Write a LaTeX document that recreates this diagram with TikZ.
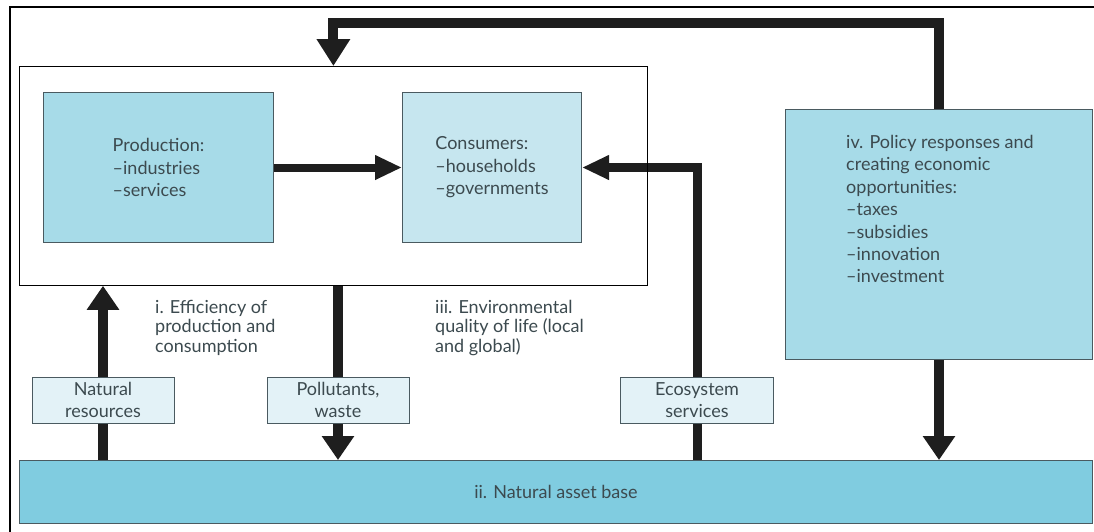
\documentclass[tikz,border=0pt]{standalone}
\usepackage{fontspec}
\setmainfont{Lato}
\usetikzlibrary{
  arrows.meta,
  backgrounds,
}
\definecolor{prodblue}{HTML}{A7DBE8}
\definecolor{consblue}{HTML}{C6E6EF}
\definecolor{baseblue}{HTML}{80CCE0}
\definecolor{tagblue}{HTML}{E3F2F7}
\definecolor{edgegray}{HTML}{4A5A60}
\definecolor{inkgray}{HTML}{3C4A4F}
\definecolor{flowblack}{HTML}{1E1E1E}
\tikzset{
  sysbox/.style={
    rectangle,
    draw=black,
    line width=0.8pt,
  },
  sector/.style={
    rectangle,
    draw=edgegray,
    line width=1pt,
    fill=prodblue,
    inner sep=0pt,
    align=left,
    text=inkgray,
    font=\fontsize{18}{22.4}\selectfont,
  },
  basebox/.style={
    rectangle,
    draw=edgegray,
    line width=1pt,
    fill=baseblue,
    inner sep=0pt,
    text=inkgray,
    font=\fontsize{18}{22.4}\selectfont,
  },
  tag/.style={
    rectangle,
    draw=edgegray,
    line width=1pt,
    fill=tagblue,
    inner sep=0pt,
    minimum height=46pt,
    align=center,
    text=inkgray,
    font=\fontsize{18}{22}\selectfont,
  },
  note/.style={
    inner sep=0pt,
    align=left,
    text=inkgray,
    font=\fontsize{18}{19.5}\selectfont,
  },
  flow/.style={
    draw=flowblack,
    line width=10pt,
    -{Triangle[length=24pt,width=31pt]},
  },
  link/.style={
    draw=flowblack,
    line width=8pt,
    -{Triangle[length=27pt,width=23pt]},
  },
}

\begin{document}
\begin{tikzpicture}[x=1pt, y=-1pt]
  \useasboundingbox (0,0) rectangle (1094,531);

  % Outer frame
  \draw[line width=2.5pt] (10,7) rectangle (1120,560);

  % Economy
  \node (econ) [sysbox, minimum width=628pt, minimum height=219pt, anchor=north west] at (19,66) {};
  \node (prod) [sector, minimum width=230pt, minimum height=150pt, anchor=north west] at (43,92)
    {Production:\\–industries\\–services};
  \node (cons) [sector, fill=consblue, minimum width=179pt, minimum height=150pt, anchor=north west] at (402,92)
    {Consumers:\\–households\\–governments};

  % Policy
  \node (policy) [sector, minimum width=307pt, minimum height=250pt, anchor=north west] at (785,109) {};
  \node (policytext) [note, font=\fontsize{18}{22.4}\selectfont, anchor=north west] at (846,135)
    {iv. Policy responses and\\creating economic\\opportunities:\\–taxes\\–subsidies\\–innovation\\–investment};

  % Natural asset base
  \node (base) [basebox, minimum width=1073pt, minimum height=63pt, anchor=north west] at (19,460)
    {ii. Natural asset base};

  % Flows between economy and nature
  \node (natres) [tag, minimum width=142pt] at (103,400) {Natural\\resources};
  \node (pollut) [tag, minimum width=142pt] at (338,400) {Pollutants,\\waste};
  \node (ecoserv) [tag, minimum width=153pt] at (697,400) {Ecosystem\\services};

  % Notes
  \node (effic) [note, anchor=north west] at (155,300) {i. Efficiency of\\production and\\consumption};
  \node (envq) [note, anchor=north west] at (435,300) {iii. Environmental\\quality of life (local\\and global)};

  % Arrows
  \coordinate (ret) at (0,23);
  \begin{scope}[on background layer]
    \fill[white] (0,0) rectangle (1094,531);
    \draw[link] (prod.east) -- (cons.west);
    \draw[flow] (natres |- base.north) -- (natres |- econ.south);
    \draw[flow] (pollut |- econ.south) -- (pollut |- base.north);
    \draw[link, line width=9pt] (ecoserv |- base.north) |- (cons.east);
    \draw[flow] (policy.south) -- (policy.south |- base.north);
    \draw[flow, -{Triangle[length=27pt,width=32pt]}] (policy.north) |- (ret -| econ.north) -- (econ.north);
  \end{scope}

\end{tikzpicture}
\end{document}
